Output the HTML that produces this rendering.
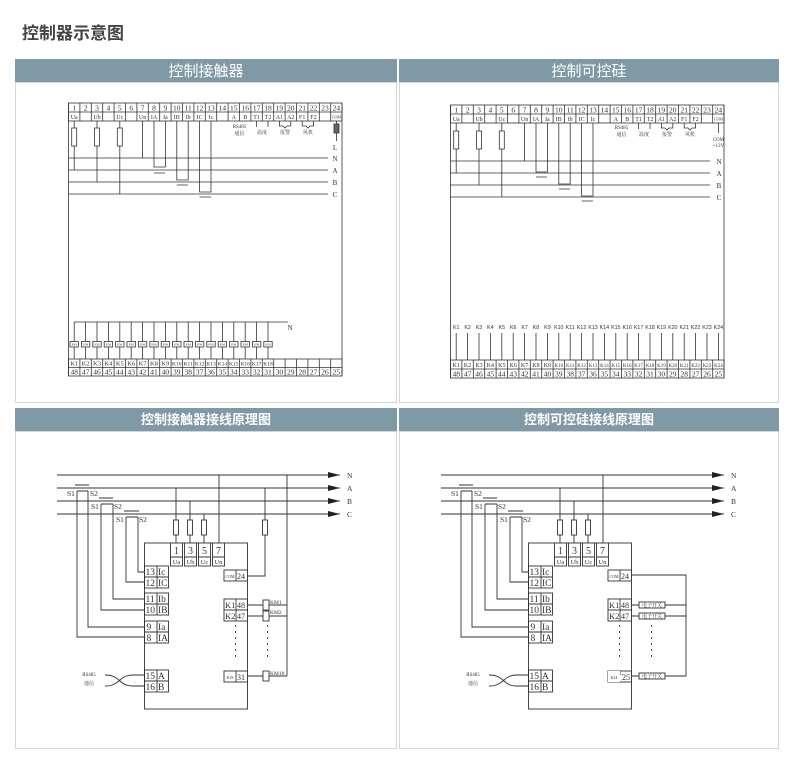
<!DOCTYPE html>
<html><head><meta charset="utf-8"><style>
body{margin:0;background:#fff;width:804px;height:761px;overflow:hidden}
svg{display:block}
.s{font-family:"Liberation Serif","Noto Serif CJK SC",serif;fill:#333}
.h{font-family:"Liberation Sans","Noto Sans CJK SC",sans-serif}
</style></head><body>
<svg width="804" height="761" viewBox="0 0 804 761" xmlns="http://www.w3.org/2000/svg">
<text x="22" y="39" class="h" font-size="17" font-weight="bold" fill="#444">控制器示意图</text>
<rect x="15" y="59" width="382" height="23" fill="#7f9aa6"/>
<rect x="399" y="59" width="380" height="23" fill="#7f9aa6"/>
<text x="206" y="76" class="h" font-size="15" fill="#fff" text-anchor="middle">控制接触器</text>
<text x="589" y="76" class="h" font-size="15" fill="#fff" text-anchor="middle">控制可控硅</text>
<rect x="15.5" y="82.5" width="381" height="320" fill="none" stroke="#d6d6d6"/>
<rect x="399.5" y="82.5" width="379" height="320" fill="none" stroke="#d6d6d6"/>
<rect x="15" y="408" width="382" height="23" fill="#7f9aa6"/>
<rect x="399" y="408" width="380" height="23" fill="#7f9aa6"/>
<text x="206" y="424" class="h" font-size="13" font-weight="bold" fill="#fff" text-anchor="middle">控制接触器接线原理图</text>
<text x="589" y="424" class="h" font-size="13" font-weight="bold" fill="#fff" text-anchor="middle">控制可控硅接线原理图</text>
<rect x="15.5" y="431.5" width="381" height="317" fill="none" stroke="#d6d6d6"/>
<rect x="399.5" y="431.5" width="379" height="317" fill="none" stroke="#d6d6d6"/>

<!-- ===== TOP LEFT ===== -->
<g stroke="#333" stroke-width="0.8" fill="none">
<path d="M68.5 103V376M342 103V376"/>
<rect x="68.5" y="103" width="273.5" height="18"/>
<path d="M68.5 112H342M79.9 103V121M91.3 103V121M102.7 103V121M114.1 103V121M125.5 103V121M136.9 103V121M148.3 103V121M159.7 103V121M171.1 103V121M182.5 103V121M193.9 103V121M205.3 103V121M216.7 103V121M228.1 103V121M239.5 103V121M250.9 103V121M262.3 103V121M273.7 103V121M285.1 103V121M296.5 103V121M307.9 103V121M319.3 103V121M330.7 103V121"/>
<path d="M68.5 158H328M68.5 170H328M68.5 182H328M68.5 194H328"/>
<path d="M74.2 121V170M97 121V182M119.8 121V194M142.6 121V158"/>
<rect x="71.7" y="128" width="5" height="18" fill="#fff"/><rect x="94.5" y="128" width="5" height="18" fill="#fff"/><rect x="117.3" y="128" width="5" height="18" fill="#fff"/>
<path d="M154 121V167H165.4V121M176.8 121V180H188.2V121M199.6 121V192H211V121"/>
<path d="M154 173H165M176.8 185H188M199.6 197H211"/>
<path d="M256.6 121V127M268 121V127M279.4 121V126H283L285 128L287 126H290.8V121M302.2 121V126H306L308 128L310 126H313.6V121"/>
<path d="M336.4 121V141"/><rect x="334" y="124" width="5" height="9" fill="#666"/>
<!-- bottom -->
<rect x="68.5" y="359" width="273.5" height="17"/>
<path d="M68.5 367.5H342M79.9 359V376M91.3 359V376M102.7 359V376M114.1 359V376M125.5 359V376M136.9 359V376M148.3 359V376M159.7 359V376M171.1 359V376M182.5 359V376M193.9 359V376M205.3 359V376M216.7 359V376M228.1 359V376M239.5 359V376M250.9 359V376M262.3 359V376M273.7 359V376M285.1 359V376M296.5 359V376M307.9 359V376M319.3 359V376M330.7 359V376"/>
<path d="M74 322H288"/>
<path d="M74.2 322V359M85.6 322V359M97 322V359M108.4 322V359M119.8 322V359M131.2 322V359M142.6 322V359M154 322V359M165.4 322V359M176.8 322V359M188.2 322V359M199.6 322V359M211 322V359M222.4 322V359M233.8 322V359M245.2 322V359M256.6 322V359M268 322V359"/>
<g fill="#fff"><rect x="70" y="341.5" width="8.4" height="5.5"/><rect x="81.4" y="341.5" width="8.4" height="5.5"/><rect x="92.8" y="341.5" width="8.4" height="5.5"/><rect x="104.2" y="341.5" width="8.4" height="5.5"/><rect x="115.6" y="341.5" width="8.4" height="5.5"/><rect x="127" y="341.5" width="8.4" height="5.5"/><rect x="138.4" y="341.5" width="8.4" height="5.5"/><rect x="149.8" y="341.5" width="8.4" height="5.5"/><rect x="161.2" y="341.5" width="8.4" height="5.5"/><rect x="172.6" y="341.5" width="8.4" height="5.5"/><rect x="184" y="341.5" width="8.4" height="5.5"/><rect x="195.4" y="341.5" width="8.4" height="5.5"/><rect x="206.8" y="341.5" width="8.4" height="5.5"/><rect x="218.2" y="341.5" width="8.4" height="5.5"/><rect x="229.6" y="341.5" width="8.4" height="5.5"/><rect x="241" y="341.5" width="8.4" height="5.5"/><rect x="252.4" y="341.5" width="8.4" height="5.5"/><rect x="263.8" y="341.5" width="8.4" height="5.5"/></g>
</g>
<g class="s" font-size="7.5" text-anchor="middle">
<text x="74.2" y="110.5">1</text><text x="85.6" y="110.5">2</text><text x="97" y="110.5">3</text><text x="108.4" y="110.5">4</text><text x="119.8" y="110.5">5</text><text x="131.2" y="110.5">6</text><text x="142.6" y="110.5">7</text><text x="154" y="110.5">8</text><text x="165.4" y="110.5">9</text><text x="176.8" y="110.5">10</text><text x="188.2" y="110.5">11</text><text x="199.6" y="110.5">12</text><text x="211" y="110.5">13</text><text x="222.4" y="110.5">14</text><text x="233.8" y="110.5">15</text><text x="245.2" y="110.5">16</text><text x="256.6" y="110.5">17</text><text x="268" y="110.5">18</text><text x="279.4" y="110.5">19</text><text x="290.8" y="110.5">20</text><text x="302.2" y="110.5">21</text><text x="313.6" y="110.5">22</text><text x="325" y="110.5">23</text><text x="336.4" y="110.5">24</text>
</g>
<g class="s" font-size="6" text-anchor="middle">
<text x="74.2" y="119">Ua</text><text x="97" y="119">Ub</text><text x="119.8" y="119">Uc</text><text x="142.6" y="119">Un</text><text x="154" y="119">IA</text><text x="165.4" y="119">Ia</text><text x="176.8" y="119">IB</text><text x="188.2" y="119">Ib</text><text x="199.6" y="119">IC</text><text x="211" y="119">Ic</text><text x="233.8" y="119">A</text><text x="245.2" y="119">B</text><text x="256.6" y="119">T1</text><text x="268" y="119">T2</text><text x="279.4" y="119">A1</text><text x="290.8" y="119">A2</text><text x="302.2" y="119">F1</text><text x="313.6" y="119">F2</text><text x="336.4" y="118.5" font-size="4">COM</text>
<text x="239.5" y="128" font-size="5">RS485</text><text x="239.5" y="135" font-size="5">通信</text><text x="262" y="134" font-size="5">温度</text><text x="285" y="134" font-size="5">报警</text><text x="308" y="134" font-size="5">风机</text>
<text x="335" y="150" font-size="7">L</text>
<text x="335" y="161" font-size="7">N</text><text x="335" y="173" font-size="7">A</text><text x="335" y="185" font-size="7">B</text><text x="335" y="197" font-size="7">C</text>
<text x="290" y="330" font-size="7">N</text>
</g>
<g class="s" font-size="3.5" text-anchor="middle">
<text x="74.2" y="345.5">EM</text><text x="85.6" y="345.5">EM</text><text x="97" y="345.5">EM</text><text x="108.4" y="345.5">EM</text><text x="119.8" y="345.5">EM</text><text x="131.2" y="345.5">EM</text><text x="142.6" y="345.5">EM</text><text x="154" y="345.5">EM</text><text x="165.4" y="345.5">EM</text><text x="176.8" y="345.5">EM</text><text x="188.2" y="345.5">EM</text><text x="199.6" y="345.5">EM</text><text x="211" y="345.5">EM</text><text x="222.4" y="345.5">EM</text><text x="233.8" y="345.5">EM</text><text x="245.2" y="345.5">EM</text><text x="256.6" y="345.5">EM</text><text x="268" y="345.5">EM</text>
</g>
<g class="s" font-size="6.5" text-anchor="middle">
<text x="74.2" y="365.5">K1</text><text x="85.6" y="365.5">K2</text><text x="97" y="365.5">K3</text><text x="108.4" y="365.5">K4</text><text x="119.8" y="365.5">K5</text><text x="131.2" y="365.5">K6</text><text x="142.6" y="365.5">K7</text><text x="154" y="365.5">K8</text><text x="165.4" y="365.5">K9</text><text x="176.8" y="365.5" font-size="5.5">K10</text><text x="188.2" y="365.5" font-size="5.5">K11</text><text x="199.6" y="365.5" font-size="5.5">K12</text><text x="211" y="365.5" font-size="5.5">K13</text><text x="222.4" y="365.5" font-size="5.5">K14</text><text x="233.8" y="365.5" font-size="5.5">K15</text><text x="245.2" y="365.5" font-size="5.5">K16</text><text x="256.6" y="365.5" font-size="5.5">K17</text><text x="268" y="365.5" font-size="5.5">K18</text>
</g>
<g class="s" font-size="7.5" text-anchor="middle">
<text x="74.2" y="374.5">48</text><text x="85.6" y="374.5">47</text><text x="97" y="374.5">46</text><text x="108.4" y="374.5">45</text><text x="119.8" y="374.5">44</text><text x="131.2" y="374.5">43</text><text x="142.6" y="374.5">42</text><text x="154" y="374.5">41</text><text x="165.4" y="374.5">40</text><text x="176.8" y="374.5">39</text><text x="188.2" y="374.5">38</text><text x="199.6" y="374.5">37</text><text x="211" y="374.5">36</text><text x="222.4" y="374.5">35</text><text x="233.8" y="374.5">34</text><text x="245.2" y="374.5">33</text><text x="256.6" y="374.5">32</text><text x="268" y="374.5">31</text><text x="279.4" y="374.5">30</text><text x="290.8" y="374.5">29</text><text x="302.2" y="374.5">28</text><text x="313.6" y="374.5">27</text><text x="325" y="374.5">26</text><text x="336.4" y="374.5">25</text>
</g>

<!-- ===== TOP RIGHT ===== -->
<g transform="translate(382,2)">
<g stroke="#333" stroke-width="0.8" fill="none">
<path d="M68.5 103V376M342 103V376"/>
<rect x="68.5" y="103" width="273.5" height="18"/>
<path d="M68.5 112H342M79.9 103V121M91.3 103V121M102.7 103V121M114.1 103V121M125.5 103V121M136.9 103V121M148.3 103V121M159.7 103V121M171.1 103V121M182.5 103V121M193.9 103V121M205.3 103V121M216.7 103V121M228.1 103V121M239.5 103V121M250.9 103V121M262.3 103V121M273.7 103V121M285.1 103V121M296.5 103V121M307.9 103V121M319.3 103V121M330.7 103V121"/>
<path d="M68.5 159H328M68.5 171H328M68.5 183H328M68.5 195H328"/>
<path d="M74.2 121V171M97 121V183M119.8 121V195M142.6 121V159"/>
<rect x="71.7" y="129" width="5" height="18" fill="#fff"/><rect x="94.5" y="129" width="5" height="18" fill="#fff"/><rect x="117.3" y="129" width="5" height="18" fill="#fff"/>
<path d="M154 121V170H165.4V121M176.8 121V182H188.2V121M199.6 121V194H211V121"/>
<path d="M154 175H165M176.8 187H188M199.6 199H211"/>
<path d="M256.6 121V127M268 121V127M279.4 121V126H283L285 128L287 126H290.8V121M302.2 121V126H306L308 128L310 126H313.6V121"/>
<path d="M336.4 121V131"/>
<rect x="68.5" y="358" width="273.5" height="18"/>
<path d="M68.5 367H342M79.9 358V376M91.3 358V376M102.7 358V376M114.1 358V376M125.5 358V376M136.9 358V376M148.3 358V376M159.7 358V376M171.1 358V376M182.5 358V376M193.9 358V376M205.3 358V376M216.7 358V376M228.1 358V376M239.5 358V376M250.9 358V376M262.3 358V376M273.7 358V376M285.1 358V376M296.5 358V376M307.9 358V376M319.3 358V376M330.7 358V376"/>
<path d="M74.2 331V358M85.6 331V358M97 331V358M108.4 331V358M119.8 331V358M131.2 331V358M142.6 331V358M154 331V358M165.4 331V358M176.8 331V358M188.2 331V358M199.6 331V358M211 331V358M222.4 331V358M233.8 331V358M245.2 331V358M256.6 331V358M268 331V358M279.4 331V358M290.8 331V358M302.2 331V358M313.6 331V358M325 331V358M336.4 331V358"/>
</g>
<g class="s" font-size="7.5" text-anchor="middle">
<text x="74.2" y="110.5">1</text><text x="85.6" y="110.5">2</text><text x="97" y="110.5">3</text><text x="108.4" y="110.5">4</text><text x="119.8" y="110.5">5</text><text x="131.2" y="110.5">6</text><text x="142.6" y="110.5">7</text><text x="154" y="110.5">8</text><text x="165.4" y="110.5">9</text><text x="176.8" y="110.5">10</text><text x="188.2" y="110.5">11</text><text x="199.6" y="110.5">12</text><text x="211" y="110.5">13</text><text x="222.4" y="110.5">14</text><text x="233.8" y="110.5">15</text><text x="245.2" y="110.5">16</text><text x="256.6" y="110.5">17</text><text x="268" y="110.5">18</text><text x="279.4" y="110.5">19</text><text x="290.8" y="110.5">20</text><text x="302.2" y="110.5">21</text><text x="313.6" y="110.5">22</text><text x="325" y="110.5">23</text><text x="336.4" y="110.5">24</text>
</g>
<g class="s" font-size="6" text-anchor="middle">
<text x="74.2" y="119">Ua</text><text x="97" y="119">Ub</text><text x="119.8" y="119">Uc</text><text x="142.6" y="119">Un</text><text x="154" y="119">IA</text><text x="165.4" y="119">Ia</text><text x="176.8" y="119">IB</text><text x="188.2" y="119">Ib</text><text x="199.6" y="119">IC</text><text x="211" y="119">Ic</text><text x="233.8" y="119">A</text><text x="245.2" y="119">B</text><text x="256.6" y="119">T1</text><text x="268" y="119">T2</text><text x="279.4" y="119">A1</text><text x="290.8" y="119">A2</text><text x="302.2" y="119">F1</text><text x="313.6" y="119">F2</text><text x="336.4" y="118.5" font-size="4">COM</text>
<text x="239.5" y="127" font-size="5">RS485</text><text x="239.5" y="134" font-size="5">通信</text><text x="262" y="134" font-size="5">温度</text><text x="285" y="134" font-size="5">报警</text><text x="308" y="134" font-size="5">风机</text>
<text x="336.4" y="139" font-size="5">COM</text><text x="336.4" y="145" font-size="5">+12V</text>
<text x="337" y="162" font-size="7">N</text><text x="337" y="174" font-size="7">A</text><text x="337" y="186" font-size="7">B</text><text x="337" y="198" font-size="7">C</text>
</g>
<g class="h" font-size="5.3" text-anchor="middle" fill="#333">
<text x="74.2" y="327">K1</text><text x="85.6" y="327">K2</text><text x="97" y="327">K3</text><text x="108.4" y="327">K4</text><text x="119.8" y="327">K5</text><text x="131.2" y="327">K6</text><text x="142.6" y="327">K7</text><text x="154" y="327">K8</text><text x="165.4" y="327">K9</text><text x="176.8" y="327">K10</text><text x="188.2" y="327">K11</text><text x="199.6" y="327">K12</text><text x="211" y="327">K13</text><text x="222.4" y="327">K14</text><text x="233.8" y="327">K15</text><text x="245.2" y="327">K16</text><text x="256.6" y="327">K17</text><text x="268" y="327">K18</text><text x="279.4" y="327">K19</text><text x="290.8" y="327">K20</text><text x="302.2" y="327">K21</text><text x="313.6" y="327">K22</text><text x="325" y="327">K23</text><text x="336.4" y="327">K24</text>
</g>
<g class="s" font-size="6" text-anchor="middle">
<text x="74.2" y="365">K1</text><text x="85.6" y="365">K2</text><text x="97" y="365">K3</text><text x="108.4" y="365">K4</text><text x="119.8" y="365">K5</text><text x="131.2" y="365">K6</text><text x="142.6" y="365">K7</text><text x="154" y="365">K8</text><text x="165.4" y="365">K9</text><text x="176.8" y="365" font-size="5">K10</text><text x="188.2" y="365" font-size="5">K11</text><text x="199.6" y="365" font-size="5">K12</text><text x="211" y="365" font-size="5">K13</text><text x="222.4" y="365" font-size="5">K14</text><text x="233.8" y="365" font-size="5">K15</text><text x="245.2" y="365" font-size="5">K16</text><text x="256.6" y="365" font-size="5">K17</text><text x="268" y="365" font-size="5">K18</text><text x="279.4" y="365" font-size="5">K19</text><text x="290.8" y="365" font-size="5">K20</text><text x="302.2" y="365" font-size="5">K21</text><text x="313.6" y="365" font-size="5">K22</text><text x="325" y="365" font-size="5">K23</text><text x="336.4" y="365" font-size="5">K24</text>
</g>
<g class="s" font-size="7.5" text-anchor="middle">
<text x="74.2" y="374.5">48</text><text x="85.6" y="374.5">47</text><text x="97" y="374.5">46</text><text x="108.4" y="374.5">45</text><text x="119.8" y="374.5">44</text><text x="131.2" y="374.5">43</text><text x="142.6" y="374.5">42</text><text x="154" y="374.5">41</text><text x="165.4" y="374.5">40</text><text x="176.8" y="374.5">39</text><text x="188.2" y="374.5">38</text><text x="199.6" y="374.5">37</text><text x="211" y="374.5">36</text><text x="222.4" y="374.5">35</text><text x="233.8" y="374.5">34</text><text x="245.2" y="374.5">33</text><text x="256.6" y="374.5">32</text><text x="268" y="374.5">31</text><text x="279.4" y="374.5">30</text><text x="290.8" y="374.5">29</text><text x="302.2" y="374.5">28</text><text x="313.6" y="374.5">27</text><text x="325" y="374.5">26</text><text x="336.4" y="374.5">25</text>
</g>
</g>

<!-- ===== BOTTOM (common, left and right) ===== -->
<g id="bl">
<g stroke="#333" stroke-width="0.9" fill="none">
<path d="M57 475H340M57 488H340M57 501H340M57 514H340"/>
<rect x="144.5" y="543" width="103" height="166" fill="#fff"/>
<path d="M176 488V543M190 501V543M204 514V543M219 475V543"/>
<rect x="173.5" y="520" width="5" height="15" fill="#fff"/><rect x="187.5" y="520" width="5" height="15" fill="#fff"/><rect x="201.5" y="520" width="5" height="15" fill="#fff"/>
<rect x="170.5" y="543" width="12" height="23" fill="#fff"/><rect x="184.5" y="543" width="12" height="23" fill="#fff"/><rect x="198.5" y="543" width="12" height="23" fill="#fff"/><rect x="212.5" y="543" width="12" height="23" fill="#fff"/>
<path d="M170.5 557H182.5M184.5 557H196.5M198.5 557H210.5M212.5 557H224.5"/>
<rect x="144.5" y="566" width="24" height="22"/><path d="M144.5 577H168.5M157 566V588"/>
<rect x="144.5" y="593" width="24" height="22"/><path d="M144.5 604H168.5M157 593V615"/>
<rect x="144.5" y="621" width="24" height="22"/><path d="M144.5 632H168.5M157 621V643"/>
<rect x="144.5" y="670" width="24" height="22"/><path d="M144.5 681H168.5M157 670V692"/>
<path d="M77 491H88M77 491V637H144.5M88 491V627H144.5M75 485H89"/>
<path d="M101 504H113M101 504V610H144.5M113 504V599H144.5M99 498H113"/>
<path d="M126 517H138M126 517V582H144.5M138 517V572H144.5M124 511H139"/>
<path d="M105 675C112 675 116 677 120 681C124 685 128 686 133 686L144.5 686M105 686C112 686 116 684 120 680C124 676 128 675 133 675L144.5 675"/>
</g>
<g fill="#222"><polygon points="328,472 340,475 328,478"/><polygon points="328,485 340,488 328,491"/><polygon points="328,498 340,501 328,504"/><polygon points="328,511 340,514 328,517"/></g>
<g class="s" font-size="7.5" fill="#333"><text x="347" y="478">N</text><text x="347" y="491">A</text><text x="347" y="504">B</text><text x="347" y="517">C</text>
<text x="67" y="496">S1</text><text x="90" y="496">S2</text><text x="91" y="509">S1</text><text x="114" y="509">S2</text><text x="116" y="522">S1</text><text x="139" y="522">S2</text></g>
<g class="s" font-size="10" fill="#333" text-anchor="middle"><text x="176.5" y="554">1</text><text x="190.5" y="554">3</text><text x="204.5" y="554">5</text><text x="218.5" y="554">7</text></g>
<g class="s" font-size="6.5" fill="#333" text-anchor="middle"><text x="176.5" y="564">Ua</text><text x="190.5" y="564">Ub</text><text x="204.5" y="564">Uc</text><text x="218.5" y="564">Un</text></g>
<g class="s" font-size="9.5" fill="#333"><text x="145.5" y="575">13</text><text x="158" y="575">Ic</text><text x="145.5" y="586">12</text><text x="158" y="586">IC</text><text x="145.5" y="602">11</text><text x="158" y="602">Ib</text><text x="145.5" y="613">10</text><text x="158" y="613">IB</text><text x="146.5" y="630">9</text><text x="158" y="630">Ia</text><text x="146.5" y="641">8</text><text x="158" y="641">IA</text><text x="145.5" y="679">15</text><text x="158" y="679">A</text><text x="145.5" y="690">16</text><text x="158" y="690">B</text></g>
<g class="s" font-size="5" fill="#333" text-anchor="middle"><text x="89" y="676">RS485</text><text x="89" y="685">通信</text></g>
<g stroke="#333" stroke-width="0.9" fill="none">
<rect x="224" y="570" width="23.5" height="11" fill="#fff"/><path d="M236 570V581"/>
<rect x="224" y="599" width="23.5" height="11" fill="#fff"/><path d="M236 599V610"/>
<rect x="224" y="610" width="23.5" height="11" fill="#fff"/><path d="M236 610V621"/>
<rect x="224" y="671" width="23.5" height="11" fill="#fff"/><path d="M236 671V682"/>
<path d="M235.5 625V660" stroke-dasharray="2 4"/>
</g>
<g class="s" fill="#333"><text x="230" y="578" font-size="4" text-anchor="middle">COM</text><text x="237" y="579" font-size="8">24</text><text x="225" y="608" font-size="8.5">K1</text><text x="237" y="608" font-size="8">48</text><text x="225" y="619" font-size="8.5">K2</text><text x="237" y="619" font-size="8">47</text><text x="237" y="680" font-size="8">31</text></g>
</g>
<use href="#bl" transform="translate(384,0)"/>

<!-- left specific -->
<g stroke="#333" stroke-width="0.9" fill="none">
<path d="M265 488V576H247.5"/><rect x="262.5" y="520" width="5" height="15" fill="#fff"/>
<path d="M287 475V676"/>
<path d="M247.5 605H263M268 605H287M247.5 616H263M268 616H287M247.5 676H263M268 676H287"/>
<rect x="263" y="600" width="6" height="10" fill="#fff"/><rect x="263" y="611" width="6" height="10" fill="#fff"/><rect x="263" y="671" width="6" height="10" fill="#fff"/>
<path d="M267.5 625V660" stroke-dasharray="2 4"/>
</g>
<g class="s" font-size="5.5" fill="#333"><text x="270" y="604">KM1</text><text x="270" y="614">KM2</text><text x="270" y="675">KM18</text><text x="230" y="679" font-size="4" text-anchor="middle">K18</text></g>
<!-- right specific -->
<g stroke="#333" stroke-width="0.9" fill="none">
<path d="M631.5 575H686V676H665M631.5 605H639M665 605H686M631.5 616H639M665 616H686M631.5 676H639"/>
<rect x="639" y="602" width="26" height="6" fill="#fff"/><rect x="639" y="613" width="26" height="6" fill="#fff"/><rect x="639" y="673" width="26" height="6" fill="#fff"/>
<path d="M651.5 625V660" stroke-dasharray="2 4"/>
</g>
<rect x="608" y="671" width="12" height="11" fill="#fff"/><rect x="616" y="675" width="15" height="6" fill="#fff"/>
<g class="s" font-size="5" fill="#333" text-anchor="middle"><text x="652" y="607">电子开关</text><text x="652" y="618">电子开关</text><text x="652" y="678">电子开关</text><text x="614" y="679" font-size="4">K24</text><text x="626" y="680" font-size="8">25</text></g>
</svg>
</body></html>
